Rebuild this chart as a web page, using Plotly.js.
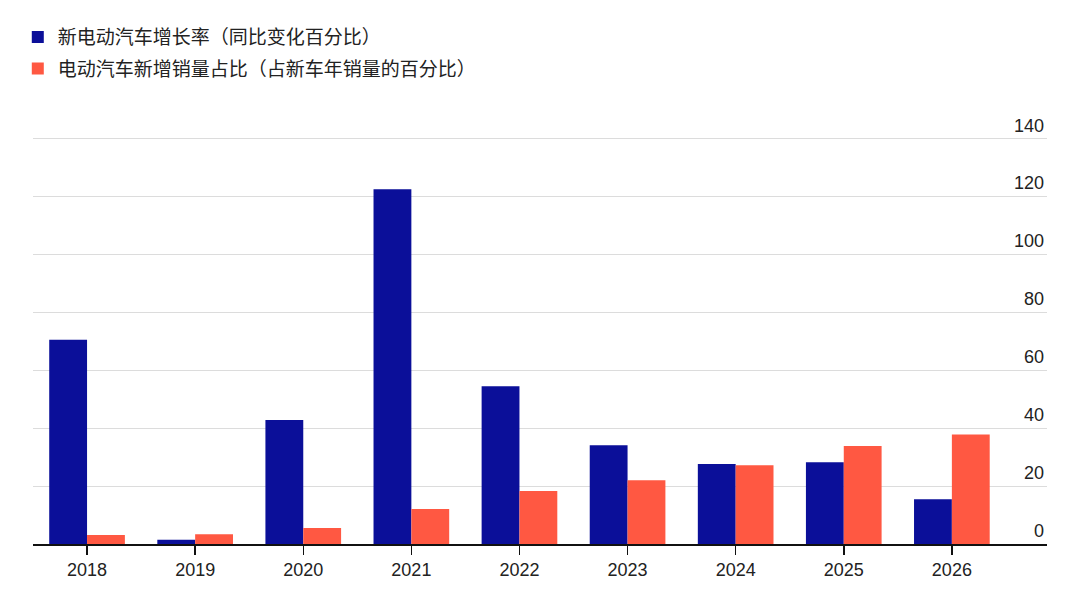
<!DOCTYPE html>
<html>
<head>
<meta charset="utf-8">
<script src="https://cdn.plot.ly/plotly-3.0.1.min.js"></script>
<style>html,body{margin:0;padding:0;background:#fff;}#chart{width:1080px;height:597px;}</style>
</head>
<body>
<div id="chart"></div>
<script>
const years = ["2018","2019","2020","2021","2022","2023","2024","2025","2026"];
const growthRate = [70.5, 1.5, 42.8, 122.4, 54.4, 34.1, 27.6, 28.2, 15.4];
const shareOfSales = [3.1, 3.4, 5.5, 12.1, 18.3, 22.0, 27.2, 33.8, 37.8];
const seriesNames = ["新电动汽车增长率（同比变化百分比）", "电动汽车新增销量占比（占新车年销量的百分比）"];
const yTicks = [0, 20, 40, 60, 80, 100, 120, 140];

const traces = [
  {type: "bar", x: years, y: growthRate, name: seriesNames[0], marker: {color: "#0b0f99"}, legendgroup: "a", hoverinfo: "x+y"},
  {type: "bar", x: years, y: shareOfSales, name: seriesNames[1], marker: {color: "#ff5842"}, legendgroup: "b", hoverinfo: "x+y"}
];

const layout = {
  width: 1080, height: 597,
  margin: {l: 33, r: 33, t: 115, b: 53},
  paper_bgcolor: "#fff", plot_bgcolor: "#fff",
  barmode: "group", bargap: 0.3, bargroupgap: 0,
  font: {family: "Liberation Sans, Arial, sans-serif", color: "#222", size: 18},
  showlegend: true,
  legend: {
    orientation: "v", x: -0.015, xanchor: "left", y: 1.226, yanchor: "top",
    font: {family: "Noto Sans CJK SC, sans-serif", size: 19, color: "#222"},
    tracegroupgap: 4, bgcolor: "rgba(0,0,0,0)"
  },
  xaxis: {
    type: "category", range: [-0.5, 8.88],
    showline: true, linecolor: "#111", linewidth: 1.5,
    ticks: "outside", ticklen: 9, tickwidth: 1.5, tickcolor: "#111",
    showgrid: false, zeroline: false,
    tickfont: {size: 18, color: "#222"}, fixedrange: true
  },
  yaxis: {
    side: "right", range: [0, 148], tickvals: yTicks, ticktext: yTicks.map(String),
    showgrid: true, gridcolor: "#dcdcdc", gridwidth: 1,
    zeroline: false, showline: false, ticks: "",
    ticklabelposition: "inside", ticklabelshift: -13, ticklabelstandoff: 0,
    tickfont: {size: 18, color: "#222"}, fixedrange: true
  }
};

Plotly.newPlot("chart", traces, layout, {displayModeBar: false, staticPlot: true});
</script>
</body>
</html>
